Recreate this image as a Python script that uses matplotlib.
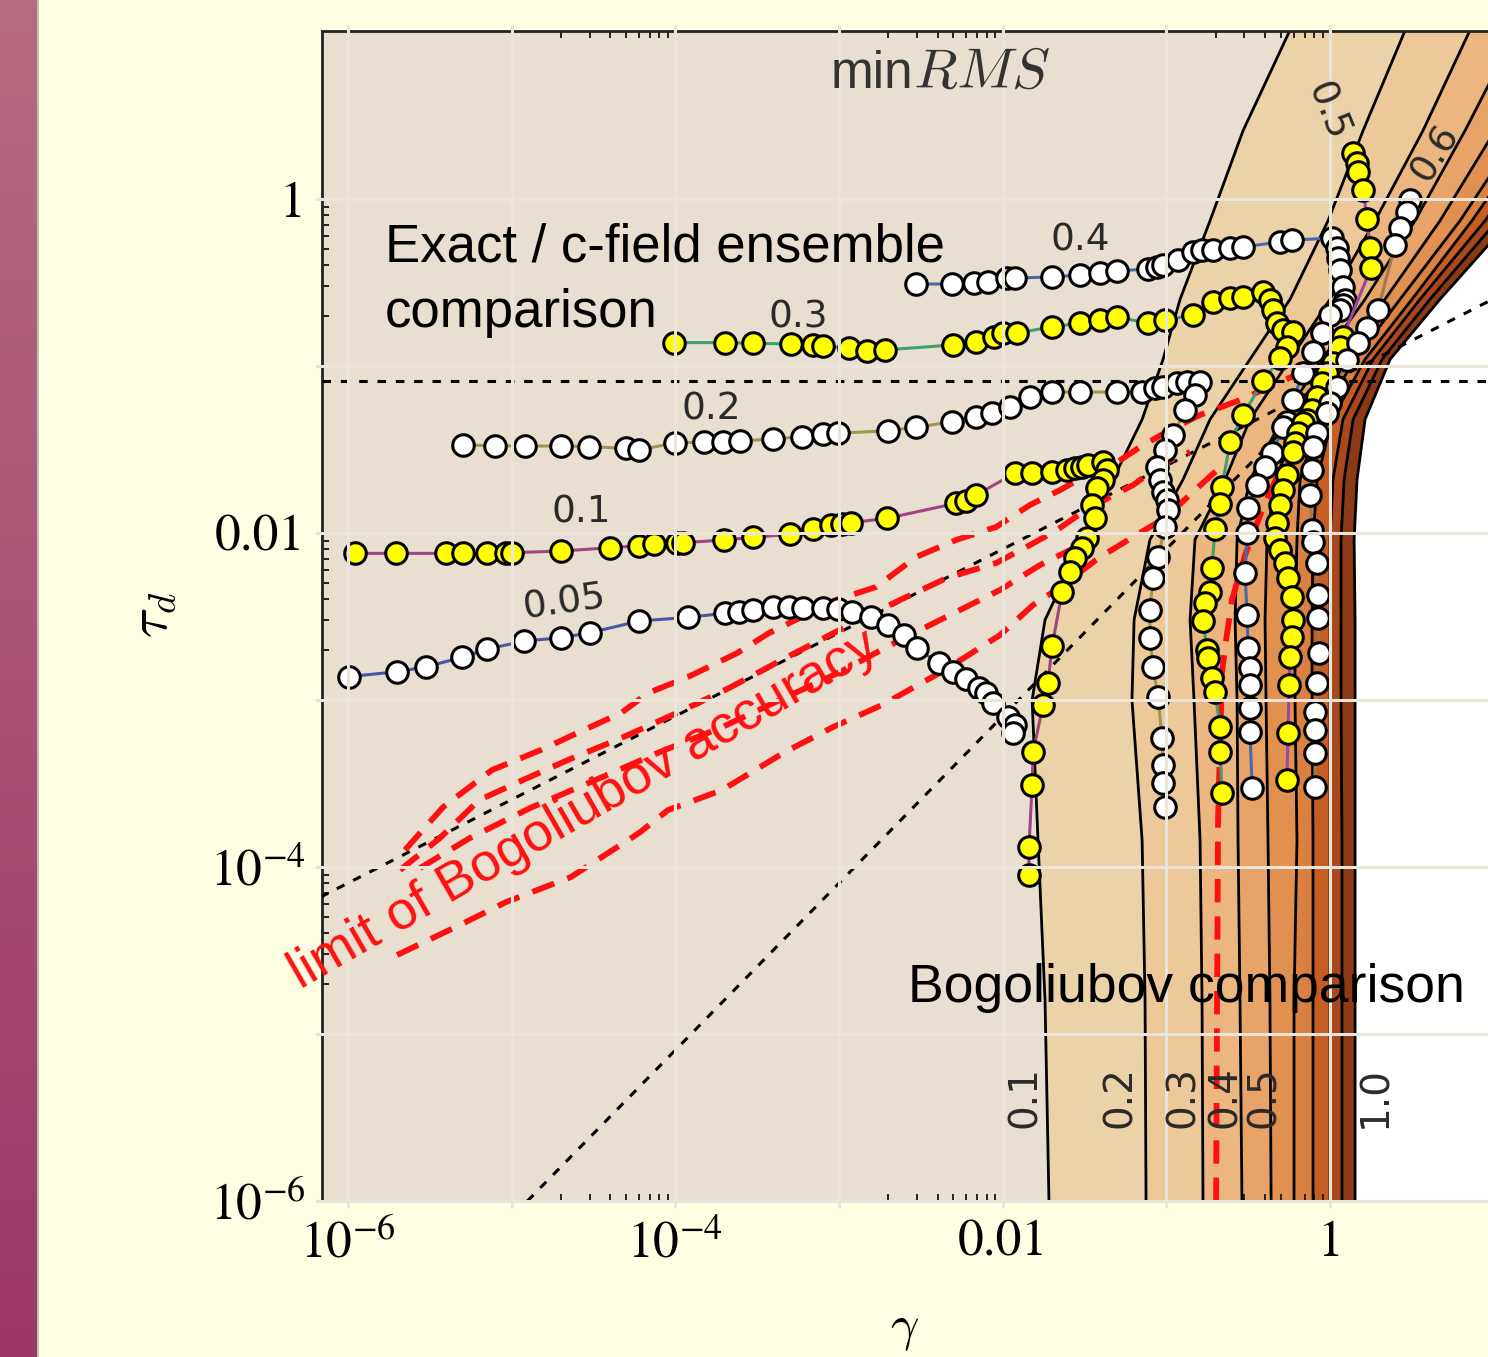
import numpy as np
import matplotlib
matplotlib.use("Agg")
import matplotlib.pyplot as plt
from matplotlib.ticker import FixedLocator, FixedFormatter, NullFormatter
from matplotlib.lines import Line2D
from matplotlib.colors import LinearSegmentedColormap

plt.rcParams['mathtext.fontset'] = 'stix'

# ------------------------------------------------------------------
# DATA (all values are log10 gamma / log10 tau_d)
# ------------------------------------------------------------------
# Bogoliubov-comparison filled contours: boundary of each level on a common tau grid
cont_lt = [1.05, 0.41, -0.13, -0.6, -0.96, -1.32, -1.68, -2.04, -2.52, -3.0, -3.84, -4.8, -6.0]
cont_levels = [0.1, 0.2, 0.3, 0.4, 0.5, 0.6, 0.7, 0.8, 0.9, 1.0]
c01 = [-0.226, -0.531, -0.733, -0.916, -1.020, -1.148, -1.326, -1.509, -1.741, -1.820, -1.784, -1.741, -1.717]
c02 = [0.476, 0.202, -0.012, -0.244, -0.489, -0.733, -0.898, -1.100, -1.197, -1.210, -1.148, -1.130, -1.124]
c03 = [0.874, 0.568, 0.275, 0.000, -0.244, -0.489, -0.641, -0.825, -0.855, -0.831, -0.794, -0.782, -0.776]
c04 = [1.161, 0.825, 0.519, 0.214, -0.049, -0.293, -0.489, -0.568, -0.580, -0.568, -0.562, -0.550, -0.538]
c05 = [1.374, 1.008, 0.672, 0.336, 0.061, -0.183, -0.336, -0.385, -0.397, -0.391, -0.379, -0.367, -0.360]
c06 = [1.527, 1.161, 0.794, 0.428, 0.153, -0.073, -0.183, -0.202, -0.214, -0.214, -0.202, -0.220, -0.220]
c07 = [1.649, 1.252, 0.867, 0.501, 0.214, 0.012, -0.079, -0.104, -0.110, -0.110, -0.104, -0.104, -0.104]
c08 = [1.741, 1.344, 0.947, 0.550, 0.263, 0.079, 0.018, 0.000, 0.000, 0.000, 0.000, 0.000, 0.000]
c09 = [1.833, 1.436, 1.020, 0.611, 0.318, 0.141, 0.086, 0.067, 0.067, 0.067, 0.073, 0.073, 0.073]
c10 = [1.955, 1.527, 1.100, 0.672, 0.367, 0.214, 0.165, 0.147, 0.153, 0.153, 0.153, 0.153, 0.153]
band_colors = ['#EBD2A8', '#EDC898', '#ECB680', '#E8A468', '#E29050',
               '#DA8040', '#C65E24', '#A8481C', '#8C3A16']
cont_label_lg = [-1.866, -1.283, -0.896, -0.644, -0.403, 0.278]
cont_label_txt = ['0.1', '0.2', '0.3', '0.4', '0.5', '1.0']
cont_label_lt = -5.377

# Exact / c-field comparison: (log10 gamma, log10 tau) of every marker
s005 = [(-5.996, -2.860), (-5.699, -2.831), (-5.522, -2.801), (-5.300, -2.744), (-5.152, -2.696),
        (-4.924, -2.647), (-4.699, -2.627), (-4.521, -2.597), (-4.219, -2.527), (-3.923, -2.505),
        (-3.698, -2.481), (-3.612, -2.475), (-3.524, -2.461), (-3.405, -2.441), (-3.307, -2.441),
        (-3.218, -2.447), (-3.100, -2.451), (-3.005, -2.457), (-2.922, -2.475), (-2.804, -2.505),
        (-2.700, -2.551), (-2.605, -2.611), (-2.525, -2.690), (-2.389, -2.780), (-2.301, -2.831),
        (-2.221, -2.874), (-2.147, -2.926), (-2.102, -2.960), (-2.057, -3.020), (-1.969, -3.100),
        (-1.924, -3.150), (-1.939, -3.199)]
s01 = [(-5.959, -2.122), (-5.706, -2.122), (-5.398, -2.122), (-5.296, -2.122), (-5.152, -2.118),
       (-5.037, -2.118), (-4.997, -2.118), (-4.696, -2.108), (-4.396, -2.088), (-4.219, -2.076),
       (-4.130, -2.066), (-3.988, -2.058), (-3.952, -2.058), (-3.702, -2.042), (-3.525, -2.026),
       (-3.299, -2.008), (-3.156, -1.978), (-3.046, -1.952), (-2.979, -1.946), (-2.924, -1.938),
       (-2.706, -1.912), (-2.283, -1.822), (-2.224, -1.807), (-2.161, -1.772), (-1.924, -1.641),
       (-1.820, -1.641), (-1.698, -1.635), (-1.607, -1.623), (-1.558, -1.611), (-1.515, -1.605),
       (-1.478, -1.593), (-1.387, -1.575), (-1.362, -1.623), (-1.387, -1.683), (-1.423, -1.731),
       (-1.454, -1.832), (-1.436, -1.910), (-1.484, -2.030), (-1.515, -2.090), (-1.558, -2.150),
       (-1.588, -2.234), (-1.637, -2.353), (-1.698, -2.677), (-1.723, -2.898), (-1.753, -3.030),
       (-1.814, -3.311), (-1.820, -3.509), (-1.839, -3.880), (-1.839, -4.048)]
s02 = [(-5.296, -1.473), (-5.101, -1.477), (-4.920, -1.479), (-4.696, -1.479), (-4.525, -1.483),
       (-4.301, -1.493), (-4.219, -1.503), (-4.001, -1.459), (-3.824, -1.457), (-3.707, -1.453),
       (-3.606, -1.449), (-3.401, -1.437), (-3.224, -1.423), (-3.096, -1.409), (-3.005, -1.403),
       (-2.698, -1.387), (-2.529, -1.367), (-2.310, -1.334), (-2.161, -1.304), (-2.065, -1.283),
       (-1.955, -1.246), (-1.833, -1.186), (-1.698, -1.156), (-1.527, -1.156), (-1.301, -1.156),
       (-1.148, -1.156), (-1.069, -1.132), (-1.020, -1.126), (-0.935, -1.102), (-0.874, -1.096),
       (-0.794, -1.096), (-0.825, -1.174), (-0.886, -1.263), (-0.959, -1.413), (-1.008, -1.503),
       (-1.057, -1.605), (-1.038, -1.683), (-1.020, -1.754), (-0.996, -1.802), (-0.990, -1.862),
       (-1.008, -1.964), (-1.051, -2.144), (-1.081, -2.269), (-1.100, -2.461), (-1.100, -2.629),
       (-1.081, -2.802), (-1.051, -2.982), (-1.026, -3.228), (-1.020, -3.389), (-1.020, -3.497),
       (-1.008, -3.641)]
s03 = [(-4.007, -0.860), (-3.696, -0.860), (-3.525, -0.864), (-3.293, -0.868), (-3.161, -0.874),
       (-3.097, -0.880), (-2.938, -0.894), (-2.828, -0.908), (-2.720, -0.904), (-2.305, -0.874),
       (-2.161, -0.854), (-2.051, -0.825), (-1.998, -0.802), (-1.912, -0.802), (-1.698, -0.766),
       (-1.527, -0.743), (-1.405, -0.725), (-1.301, -0.707), (-1.112, -0.743), (-1.008, -0.725),
       (-0.837, -0.695), (-0.715, -0.617), (-0.611, -0.593), (-0.531, -0.587), (-0.409, -0.557),
       (-0.367, -0.605), (-0.348, -0.665), (-0.324, -0.743), (-0.287, -0.784), (-0.226, -0.796),
       (-0.263, -0.886), (-0.305, -0.952), (-0.409, -1.090), (-0.531, -1.293), (-0.611, -1.455),
       (-0.660, -1.725), (-0.672, -1.826), (-0.703, -1.976), (-0.721, -2.210), (-0.733, -2.353),
       (-0.764, -2.419), (-0.776, -2.527), (-0.751, -2.701), (-0.745, -2.749), (-0.721, -2.868),
       (-0.703, -2.952), (-0.672, -3.162), (-0.672, -3.311), (-0.660, -3.557)]
s04 = [(-2.529, -0.509), (-2.309, -0.509), (-2.175, -0.505), (-2.092, -0.499), (-1.973, -0.473),
       (-1.924, -0.473), (-1.698, -0.467), (-1.527, -0.455), (-1.405, -0.443), (-1.301, -0.431),
       (-1.112, -0.419), (-1.057, -0.407), (-1.020, -0.395), (-0.929, -0.365), (-0.837, -0.317),
       (-0.782, -0.305), (-0.715, -0.305), (-0.611, -0.293), (-0.531, -0.287), (-0.305, -0.257),
       (-0.232, -0.246), (0.012, -0.234), (0.043, -0.293), (0.049, -0.353), (0.061, -0.425),
       (0.079, -0.527), (0.092, -0.605), (0.079, -0.635), (0.061, -0.665), (0.000, -0.695),
       (-0.049, -0.802), (-0.104, -0.916), (-0.165, -1.042), (-0.226, -1.204), (-0.263, -1.335),
       (-0.287, -1.365), (-0.354, -1.521), (-0.397, -1.605), (-0.446, -1.713), (-0.501, -1.850),
       (-0.507, -2.000), (-0.519, -2.240), (-0.507, -2.491), (-0.501, -2.689), (-0.489, -2.808),
       (-0.489, -2.910), (-0.489, -3.048), (-0.489, -3.192), (-0.476, -3.527)]
s05 = [(0.141, 0.275), (0.165, 0.216), (0.171, 0.162), (0.202, 0.054), (0.226, -0.120),
       (0.244, -0.293), (0.250, -0.413), (0.079, -0.826), (0.061, -0.886), (0.018, -0.982),
       (-0.018, -1.042), (-0.049, -1.102), (-0.079, -1.186), (-0.110, -1.263), (-0.141, -1.323),
       (-0.165, -1.341), (-0.195, -1.401), (-0.214, -1.461), (-0.226, -1.515), (-0.263, -1.653),
       (-0.287, -1.743), (-0.305, -1.832), (-0.324, -1.940), (-0.336, -2.030), (-0.305, -2.102),
       (-0.275, -2.180), (-0.257, -2.269), (-0.232, -2.383), (-0.226, -2.521), (-0.232, -2.623),
       (-0.244, -2.743), (-0.250, -2.910), (-0.257, -3.198), (-0.263, -3.479)]
s06 = [(0.489, -0.006), (0.470, -0.078), (0.428, -0.174), (0.397, -0.275), (0.293, -0.665),
       (0.226, -0.772), (0.171, -0.862), (0.104, -0.964), (0.043, -1.126), (0.000, -1.222),
       (-0.018, -1.281), (-0.079, -1.401), (-0.104, -1.485), (-0.110, -1.623), (-0.122, -1.772),
       (-0.110, -1.982), (-0.104, -2.054), (-0.079, -2.180), (-0.073, -2.371), (-0.073, -2.509),
       (-0.067, -2.719), (-0.079, -2.898), (-0.092, -3.072), (-0.092, -3.180), (-0.092, -3.317),
       (-0.092, -3.521)]
series_names = ['0.05', '0.1', '0.2', '0.3', '0.4', '0.5', '0.6']
series_line_colors = ['#4B55A8', '#A0457F', '#A0964E', '#3FA06A', '#4A68A8', '#9A48A0', '#A07A48']
series_face = ['white', '#FFFF00', 'white', '#FFFF00', 'white', '#FFFF00', 'white']
# series label positions (log10 gamma, log10 tau, rotation)
series_label_pos = [(-4.679, -2.419, 8), (-4.575, -1.880, 0), (-3.781, -1.263, 0),
                    (-3.250, -0.707, 0), (-1.527, -0.246, 0), (-0.018, 0.521, -68),
                    (0.641, 0.275, 58)]

# Limit of Bogoliubov accuracy (red dashed)
red_low = [(-5.699, -4.527), (-5.315, -4.347), (-5.034, -4.210), (-4.637, -4.060), (-4.221, -3.796),
           (-4.044, -3.659), (-3.714, -3.539), (-3.329, -3.311), (-3.036, -3.162), (-2.737, -3.030),
           (-2.352, -2.820), (-2.016, -2.611), (-1.814, -2.431), (-1.674, -2.341), (-1.405, -2.144),
           (-1.203, -2.024), (-1.008, -1.910), (-0.837, -1.754), (-0.690, -1.623)]
red_vert = [(-0.696, -6.0), (-0.690, -4.796), (-0.684, -3.719), (-0.660, -2.838), (-0.635, -2.641),
            (-0.599, -2.401), (-0.519, -2.132), (-0.415, -1.862), (-0.305, -1.623)]
red_up1 = [(-5.651, -3.898), (-5.418, -3.641), (-5.119, -3.419), (-4.820, -3.299), (-4.600, -3.198),
           (-4.331, -3.078), (-4.166, -2.958), (-3.922, -2.862), (-3.622, -2.719), (-3.427, -2.599),
           (-3.018, -2.401), (-2.773, -2.323), (-2.529, -2.144), (-2.285, -2.042), (-2.040, -1.964),
           (-1.833, -1.832), (-1.649, -1.743), (-1.509, -1.665), (-1.344, -1.605), (-1.161, -1.485),
           (-0.977, -1.383), (-0.794, -1.293), (-0.550, -1.204), (-0.275, -1.084), (-0.061, -0.982)]
red_up2 = [(-5.681, -4.018), (-5.437, -3.826), (-5.198, -3.599), (-4.930, -3.479), (-4.655, -3.359),
           (-4.331, -3.228), (-3.977, -3.072), (-3.671, -2.928), (-3.293, -2.731), (-2.938, -2.551),
           (-2.627, -2.401), (-2.340, -2.269), (-2.040, -2.180), (-1.833, -2.072), (-1.668, -1.982),
           (-1.509, -1.874), (-1.344, -1.784), (-1.203, -1.713), (-1.008, -1.575), (-0.855, -1.515)]
red_up3 = [(-5.559, -4.006), (-5.254, -3.826), (-4.887, -3.647), (-4.459, -3.467), (-4.093, -3.311),
           (-3.726, -3.168), (-3.360, -3.000), (-2.993, -2.832), (-2.627, -2.641), (-2.260, -2.461),
           (-2.016, -2.341), (-1.772, -2.192), (-1.527, -2.072)]

# black dotted reference lines: (gamma, tau) end points
dot_flat_tau = 0.0813
dot_shallow = [(6.8e-7, 6.6e-5), (9.3, 0.244)]
dot_steep = [(1.25e-5, 1.0e-6), (1.0, 0.08)]

# axes
x_major = [1e-6, 1e-4, 1e-2, 1.0]
x_major_lbl = ['$10^{-6}$', '$10^{-4}$', '0.01', '1']
y_major = [1e-6, 1e-4, 1e-2, 1.0]
y_major_lbl = ['$10^{-6}$', '$10^{-4}$', '0.01', '1']
grid_decades = [1e-6, 1e-5, 1e-4, 1e-3, 1e-2, 1e-1, 1.0]
xlim_log = (-6.158, 0.965)
ylim_log = (-6.0, 1.006)

# ------------------------------------------------------------------
W, H = 1488, 1357
fig = plt.figure(figsize=(W / 100, H / 100), dpi=100)
fig.patch.set_facecolor('#FEFEE2')

# decorative strip on the left
sax = fig.add_axes([0, 0, 37 / W, 1])
strip_cmap = LinearSegmentedColormap.from_list('strip', ['#B86A80', '#9C3868'])
sax.imshow(np.linspace(0, 1, 256).reshape(-1, 1), aspect='auto', cmap=strip_cmap,
           extent=[0, 1, 0, 1], origin='upper')
sax.axis('off')
fig.add_artist(Line2D([37.5 / W, 37.5 / W], [0, 1], color='#B4B4A4', lw=1.2))

ax = fig.add_axes([322 / W, (H - 1201) / H, (W - 322) / W, (1201 - 31) / H])
ax.set_facecolor('#E8DFD0')
ax.set_xscale('log')
ax.set_yscale('log')
ax.set_xlim(10 ** xlim_log[0], 10 ** xlim_log[1])
ax.set_ylim(10 ** ylim_log[0], 10 ** ylim_log[1])

# filled contours
tau_c = 10.0 ** np.array(cont_lt)
bounds = [c01, c02, c03, c04, c05, c06, c07, c08, c09, c10]
for i in range(len(bounds) - 1):
    ax.fill_betweenx(tau_c, 10.0 ** np.array(bounds[i]), 10.0 ** np.array(bounds[i + 1]),
                     color=band_colors[i], lw=0, zorder=1)
ax.fill_betweenx(tau_c, 10.0 ** np.array(c10), 1e3, color='white', lw=0, zorder=1)
for b in bounds:
    ax.plot(10.0 ** np.array(b), tau_c, color='black', lw=2.0, zorder=2)
for lg, txt in zip(cont_label_lg, cont_label_txt):
    ax.text(10 ** lg, 10 ** cont_label_lt, txt, rotation=90, ha='center', va='center',
            fontsize=28, color='#2a2a2a', family='DejaVu Sans', zorder=9)

# black dotted guide lines
dkw = dict(color='black', lw=2.2, dashes=(2.8, 3.2), zorder=3)
ax.axhline(dot_flat_tau, **dkw)
ax.plot([p[0] for p in dot_shallow], [p[1] for p in dot_shallow], **dkw)
ax.plot([p[0] for p in dot_steep], [p[1] for p in dot_steep], **dkw)

# red dashed limit of Bogoliubov accuracy
for pts in (red_low, red_vert, red_up1, red_up2, red_up3):
    g, t = 10.0 ** np.array(pts).T
    ax.plot(g, t, color='#FF1010', lw=4.2, dashes=(4.0, 2.4), zorder=4,
            solid_capstyle='butt', dash_capstyle='butt')

# exact / c-field series
for pts, lc, fc in zip([s005, s01, s02, s03, s04, s05, s06], series_line_colors, series_face):
    g, t = 10.0 ** np.array(pts).T
    ax.plot(g, t, color=lc, lw=2.2, marker='o', ms=15.5, mfc=fc, mec='black', mew=2.2, zorder=5)
for name, (lg, lt, rot) in zip(series_names, series_label_pos):
    ax.text(10 ** lg, 10 ** lt, name, rotation=rot, ha='center', va='center', fontsize=27,
            color='#2a2a2a', family='DejaVu Sans', zorder=9, rotation_mode='anchor')

# grid lines (drawn above the data, light)
for v in grid_decades:
    ax.axvline(v, color='#EAE4DA', lw=2.2, zorder=8, ymin=-0.004, ymax=1.004, clip_on=False)
    ax.axhline(v, color='#EAE4DA', lw=2.2, zorder=8, xmin=-0.004, xmax=1.0, clip_on=False)

# annotations
def axfrac(px, py):
    return ((px - 322) / (W - 322), (1201 - py) / (1201 - 31))

ax.text(*axfrac(385, 262), 'Exact / c-field ensemble', transform=ax.transAxes, fontsize=38,
        family='Liberation Sans', ha='left', va='baseline', zorder=10)
ax.text(*axfrac(385, 327), 'comparison', transform=ax.transAxes, fontsize=38,
        family='Liberation Sans', ha='left', va='baseline', zorder=10)
ax.text(*axfrac(908, 1002), 'Bogoliubov comparison', transform=ax.transAxes, fontsize=38.5,
        family='Liberation Sans', ha='left', va='baseline', zorder=10)
ax.text(10 ** -4.56, 10 ** -3.66, 'limit of Bogoliubov accuracy', color='#FF1010', fontsize=39,
        family='Liberation Sans', rotation=30, rotation_mode='anchor', ha='center', va='center',
        zorder=10)
ax.text(*axfrac(913, 88), 'min', transform=ax.transAxes, fontsize=37, family='Liberation Sans',
        color='#333333', ha='right', va='baseline', zorder=10)
ax.text(*axfrac(913, 88), '$RMS$', transform=ax.transAxes, fontsize=41, math_fontfamily='cm',
        color='#333333', ha='left', va='baseline', zorder=10)

# ticks
ax.xaxis.set_major_locator(FixedLocator(x_major))
ax.xaxis.set_major_formatter(FixedFormatter(x_major_lbl))
ax.yaxis.set_major_locator(FixedLocator(y_major))
ax.yaxis.set_major_formatter(FixedFormatter(y_major_lbl))
minor = [k * 10.0 ** e for e in (-5, -3, -1) for k in range(1, 10)]
ax.xaxis.set_minor_locator(FixedLocator(minor))
ax.yaxis.set_minor_locator(FixedLocator(minor))
ax.xaxis.set_minor_formatter(NullFormatter())
ax.yaxis.set_minor_formatter(NullFormatter())
ax.tick_params(which='both', direction='in', top=True, right=False, width=1.4, color='#222222')
ax.tick_params(which='major', length=13)
ax.tick_params(which='minor', length=5)
ax.tick_params(axis='x', which='major', pad=14, labelsize=37)
ax.tick_params(axis='y', which='major', pad=12, labelsize=37)
for lab in ax.get_xticklabels() + ax.get_yticklabels():
    lab.set_family('STIXGeneral')
for side in ('left', 'bottom', 'top'):
    ax.spines[side].set_linewidth(2.0)
    ax.spines[side].set_color('#222222')
ax.spines['right'].set_visible(False)

fig.text(152 / W, 1 - 615 / H, r'$\tau_d$', rotation=90, fontsize=40, math_fontfamily='cm',
         ha='center', va='center')
fig.text(905 / W, 1 - 1353 / H, r'$\gamma$', fontsize=36, math_fontfamily='cm',
         ha='center', va='bottom')

fig.savefig('out.png', dpi=100, facecolor=fig.get_facecolor())
